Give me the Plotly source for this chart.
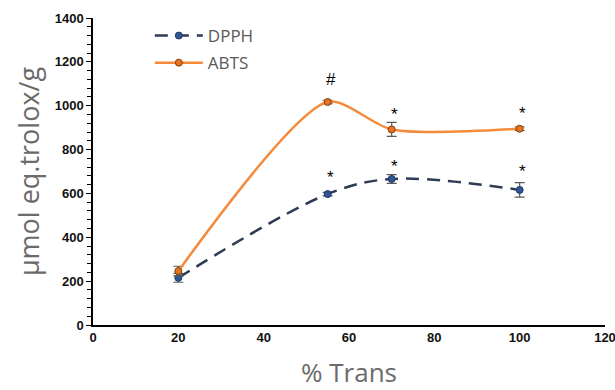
import plotly.graph_objects as go

# Antioxidant capacity versus % trans
trans = [20, 55, 70, 100]
dpph = [215, 597, 666, 616]
dpph_err = [20, 8, 20, 33]
abts = [246, 1017, 892, 895]
abts_err = [22, 8, 32, 8]

# significance marks placed above the points
dpph_marks = ["", "*", "*", "*"]
dpph_mark_y = [None, 672, 722, 702]
abts_marks = ["", "#", "*", "*"]
abts_mark_y = [None, 1118, 960, 965]

fig = go.Figure()

fig.add_trace(go.Scatter(
    x=trans, y=dpph, name="DPPH", mode="lines+markers", legendgroup="a",
    line=dict(color="#2E3B55", width=2.5, dash="13px,8px", shape="spline", smoothing=1.0),
    marker=dict(size=7, color="#2F5597", line=dict(color="#1F3864", width=1)),
    error_y=dict(type="data", array=dpph_err, color="#5A5A5A", thickness=1.2, width=5),
))
fig.add_trace(go.Scatter(
    x=trans, y=abts, name="ABTS", mode="lines+markers", legendgroup="b",
    line=dict(color="#F58B3A", width=2.5, shape="spline", smoothing=0.75),
    marker=dict(size=7, color="#E8731E", line=dict(color="#7F3F10", width=1)),
    error_y=dict(type="data", array=abts_err, color="#5A5A5A", thickness=1.2, width=5),
))

for labels, ys in [(dpph_marks, dpph_mark_y), (abts_marks, abts_mark_y)]:
    for x, t, y in zip(trans, labels, ys):
        if t:
            fig.add_annotation(x=x, y=y, text=t, showarrow=False, xshift=3,
                               font=dict(family="Liberation Sans", size=17, color="black"))

fig.update_layout(
    width=615, height=390,
    margin=dict(l=93, r=10, t=18, b=65),
    paper_bgcolor="white", plot_bgcolor="white",
    showlegend=True,
    legend=dict(x=0.111, y=1.0, xanchor="left", yanchor="top",
                font=dict(family="Open Sans", size=17, color="#595959"),
                bgcolor="rgba(0,0,0,0)", itemwidth=48, tracegroupgap=2),
    xaxis=dict(
        range=[0, 120], dtick=20, tick0=0, automargin=False,
        showgrid=False, zeroline=False,
        showline=True, linecolor="#000000", linewidth=1.5,
        ticks="", ticklen=0, ticklabeloverflow="allow",
        tickfont=dict(family="Liberation Sans", size=13, color="#111111", weight="bold"),
        title=dict(text="% Trans", font=dict(family="Open Sans", size=26, color="#6B6B6B"), standoff=25),
    ),
    yaxis=dict(
        range=[0, 1400], dtick=200, tick0=0, automargin=False,
        showgrid=False, zeroline=False,
        showline=True, linecolor="#000000", linewidth=1.5,
        ticks="outside", ticklen=5, tickwidth=1.2, tickcolor="#000000",
        minor=dict(dtick=40, ticks="outside", ticklen=4, tickwidth=1, tickcolor="#000000"),
        tickfont=dict(family="Liberation Sans", size=13, color="#111111", weight="bold"),
        title=dict(text="µmol eq.trolox/g", font=dict(family="Open Sans", size=27, color="#6B6B6B"), standoff=7),
    ),
)

fig.write_html("out.html")
